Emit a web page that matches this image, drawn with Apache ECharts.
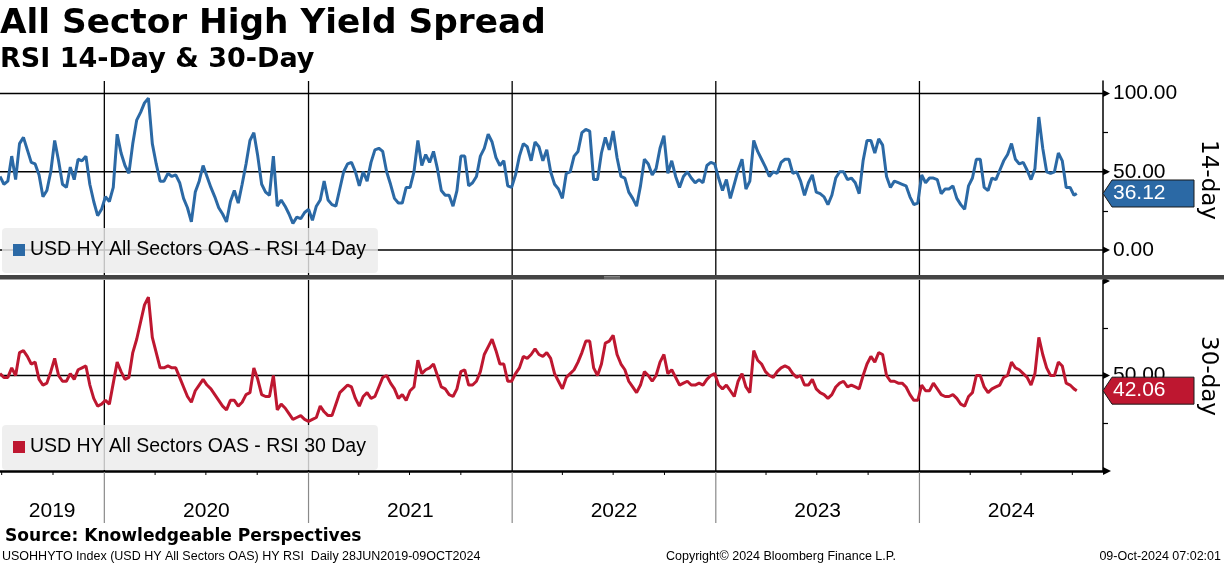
<!DOCTYPE html>
<html><head><meta charset="utf-8">
<script src="https://cdn.jsdelivr.net/npm/echarts@6/dist/echarts.min.js"></script>
<style>html,body{margin:0;padding:0;background:#fff}#c{width:1224px;height:566px}</style>
</head><body><div id="c"></div>
<script>
// Weekly readings (Fridays from 28-Jun-2019) plus the final print of 09-Oct-2024
const rsi14 = [
47,42,44,60,45,68,72,64,56,55,
48,34,38,50,70,57,42,40,53,45,
58,57,60,42,31,22,26,34,31,40,
74,62,54,49,68,83,88,94,97,68,
55,44,44,49,47,48,43,33,27,18,
37,44,54,47,40,34,27,23,18,31,
38,30,42,55,70,75,60,42,37,35,
60,28,32,28,23,17,21,20,24,26,
19,28,32,44,32,29,28,39,50,55,
56,50,41,50,44,56,64,65,63,50,
42,33,30,30,40,40,50,70,54,61,
56,63,52,38,35,35,28,38,60,60,
41,43,47,60,65,74,69,59,54,57,
41,40,48,60,68,66,57,69,66,57,
64,50,42,39,33,49,50,60,63,75,
77,76,45,45,62,72,64,76,59,47,
46,37,33,28,41,58,55,48,52,65,
73,49,57,47,40,47,50,46,43,45,
43,54,56,55,46,38,45,33,42,51,
58,39,44,70,63,58,53,47,50,49,
56,58,58,49,50,44,35,43,48,37,
36,34,29,35,46,50,50,45,46,43,
36,57,70,70,62,71,67,47,40,44,
43,42,41,34,29,30,48,43,46,46,
45,36,39,39,41,33,29,26,41,46,
58,58,40,38,46,45,51,57,61,68,
58,55,56,51,45,52,85,65,50,49,
50,62,57,40,40,35,
36.12];
const rsi30 = [
51,49,49,54,50,62,63,60,56,57,
48,45,46,52,59,50,47,47,51,48,
53,54,55,45,38,34,35,37,35,46,
57,52,48,49,62,69,78,87,91,70,
62,54,54,55,54,54,49,44,39,36,
42,45,48,45,43,40,37,34,32,37,
37,34,36,40,41,54,48,40,39,39,
50,32,35,33,30,27,28,29,27,26,
27,28,34,31,29,29,35,41,43,45,
44,38,34,39,41,38,39,44,49,50,
46,43,38,40,37,42,44,58,51,53,
54,56,50,44,43,40,39,43,52,53,
45,45,47,52,61,65,69,63,56,56,
47,47,51,54,60,59,61,64,61,60,
62,59,51,47,43,49,51,53,57,62,
68,68,54,50,56,67,68,71,61,56,
53,47,44,41,45,52,50,47,50,57,
61,51,53,49,45,46,47,45,45,46,
45,48,50,51,45,43,45,42,39,47,
51,44,41,63,58,56,52,50,49,52,
54,55,54,51,49,50,45,45,48,43,
41,40,38,40,44,46,47,44,45,44,
43,50,56,60,57,62,61,50,47,47,
46,46,44,40,37,37,45,42,42,46,
43,40,39,39,40,38,35,34,39,41,
50,50,44,41,43,44,45,49,50,57,
54,53,51,49,45,51,70,61,54,50,
50,57,55,46,45,43,
42.06];
const firstDate = '2019-06-28';
const lastDate = '2024-10-09';
const axisStart = '2019-06-28';
const axisEnd = '2024-11-25';
const yearStarts = ['2020-01-01','2021-01-01','2022-01-01','2023-01-01','2024-01-01'];
const quarterTicks = ['2019-07-01','2019-10-01','2020-04-01','2020-07-01','2020-10-01',
  '2021-04-01','2021-07-01','2021-10-01','2022-04-01','2022-07-01','2022-10-01',
  '2023-04-01','2023-07-01','2023-10-01','2024-04-01','2024-07-01','2024-10-01'];
const topTicks = [0,25,50,75,100];
const topLabels = [0,50,100];
const topGrid = [0,50,100];
const bottomLabels = [50];
const bottomGrid = [50];
const name14 = 'USD HY All Sectors OAS - RSI 14 Day';
const name30 = 'USD HY All Sectors OAS - RSI 30 Day';
const C14 = '#2b69a5', C30 = '#be1730';

const ts = s => { const p = s.split('-').map(Number); return new Date(p[0], p[1]-1, p[2]).getTime(); };
function buildDates(n){
  const out=[]; const p = firstDate.split('-').map(Number);
  for(let i=0;i<n-1;i++){ const d = new Date(p[0], p[1]-1, p[2] + i*7);
    out.push(d.getFullYear()+'-'+String(d.getMonth()+1).padStart(2,'0')+'-'+String(d.getDate()).padStart(2,'0')); }
  out.push(lastDate); return out;
}
const dates = buildDates(rsi14.length);
const pairs14 = dates.map((d,i)=>[ts(d), rsi14[i]]);
const pairs30 = dates.map((d,i)=>[ts(d), rsi30[i]]);
const bounds = [axisStart].concat(yearStarts, [axisEnd]).map(ts);
const labelDates = bounds.slice(0,-1).map((b,i)=> (b + bounds[i+1])/2);

const FONT = '"Liberation Sans", Arial, sans-serif';
const chart = echarts.init(document.getElementById('c'), null, {renderer:'canvas'});
const legendBase = {
  left: 2, orient: 'horizontal', icon: 'rect', itemWidth: 12, itemHeight: 12,
  backgroundColor: 'rgba(236,236,236,0.82)', borderRadius: 4, padding: [11,12,12,11],
  selectedMode: false,
  textStyle: {fontFamily: FONT, fontSize: 19.5, color: '#000', lineHeight: 22}
};
chart.setOption({
  animation: false,
  backgroundColor: '#fff',
  grid: [
    {left: 0, right: 121, top: 81, height: 195},
    {left: 0, right: 121, top: 280, height: 191}
  ],
  xAxis: [
    {gridIndex: 0, type: 'time', min: ts(axisStart), max: ts(axisEnd), show: false},
    {gridIndex: 1, type: 'time', min: ts(axisStart), max: ts(axisEnd),
      axisLine: {show: true, lineStyle: {color: '#000', width: 2.5}},
      axisTick: {show: false}, axisLabel: {show: false}, splitLine: {show: false}}
  ],
  yAxis: [
    {gridIndex: 0, type: 'value', position: 'right', min: -16.6, max: 108,
      axisLine: {show: true, lineStyle: {color: '#000', width: 1.5}},
      axisTick: {show: true, customValues: topTicks, length: 5, lineStyle: {color: '#000', width: 1.2}},
      axisLabel: {show: true, customValues: topLabels, margin: 10, color: '#000', fontFamily: FONT, fontSize: 21,
        formatter: v => Number(v).toFixed(2)},
      splitLine: {show: false}},
    {gridIndex: 1, type: 'value', position: 'right', min: 0, max: 100, interval: 25,
      axisLine: {show: true, lineStyle: {color: '#000', width: 1.5}},
      axisTick: {show: true, length: 5, lineStyle: {color: '#000', width: 1.2}},
      axisLabel: {show: true, margin: 10, color: '#000', fontFamily: FONT, fontSize: 21,
        formatter: v => bottomLabels.indexOf(Number(v)) >= 0 ? Number(v).toFixed(2) : ''},
      splitLine: {show: false}}
  ],
  legend: [
    Object.assign({}, legendBase, {top: 228, data: [name14]}),
    Object.assign({}, legendBase, {top: 425, data: [name30]})
  ],
  series: [
    {type: 'line', name: name14, xAxisIndex: 0, yAxisIndex: 0, data: pairs14, showSymbol: false, symbol: 'none',
      lineStyle: {color: C14, width: 3}, itemStyle: {color: C14}, z: 3},
    {type: 'line', name: name30, xAxisIndex: 1, yAxisIndex: 1, data: pairs30, showSymbol: false, symbol: 'none',
      lineStyle: {color: C30, width: 3}, itemStyle: {color: C30}, z: 3}
  ]
});

// decorations placed through the axes' own scales
const els = [];
const xPix = (i, t) => chart.convertToPixel({xAxisIndex: i}, t);
const yPix = (i, v) => chart.convertToPixel({yAxisIndex: i}, v);
const xL = xPix(0, ts(axisStart)), xR = xPix(0, ts(axisEnd));
const top0 = yPix(0, 108), bot0 = yPix(0, -16.6);
const top1 = yPix(1, 100), bot1 = yPix(1, 0);
function arrow(y){ return {type:'polygon', z: 4, shape:{points:[[xR, y-3.5],[xR+7, y],[xR, y+3.5]]}, style:{fill:'#000'}}; }
topGrid.forEach(v => { const y = yPix(0, v);
  els.push({type:'line', z: 1, shape:{x1:xL, y1:y, x2:xR, y2:y}, style:{stroke:'#000', lineWidth:1.5}});
  els.push(arrow(y)); });
bottomGrid.forEach(v => { const y = yPix(1, v);
  els.push({type:'line', z: 1, shape:{x1:xL, y1:y, x2:xR, y2:y}, style:{stroke:'#000', lineWidth:1.5}});
  els.push(arrow(y)); });
els.push(arrow(top1 + 1));
els.push({type:'polygon', z: 4, shape:{points:[[xR, bot1-4],[xR+8, bot1],[xR, bot1+4]]}, style:{fill:'#000'}});
yearStarts.forEach(d => { const x = xPix(0, ts(d));
  els.push({type:'line', z: 1, shape:{x1:x, y1:top0, x2:x, y2:bot0}, style:{stroke:'#000', lineWidth:1.3}});
  els.push({type:'line', z: 1, shape:{x1:x, y1:top1, x2:x, y2:bot1}, style:{stroke:'#000', lineWidth:1.3}});
  els.push({type:'line', z: 1, shape:{x1:x, y1:bot1+1, x2:x, y2:bot1+52}, style:{stroke:'#8a8a8a', lineWidth:1.2}});
});
quarterTicks.forEach(d => { const x = xPix(1, ts(d));
  els.push({type:'line', z: 2, shape:{x1:x, y1:bot1, x2:x, y2:bot1+4}, style:{stroke:'#000', lineWidth:1}}); });
labelDates.forEach(t => { const x = xPix(1, t);
  els.push({type:'text', z: 8, x: x, y: bot1 + 40, style:{text: String(new Date(t).getFullYear()), fill:'#000',
    fontFamily: FONT, fontSize: 21, align:'center', verticalAlign:'middle'}}); });
// divider between the panels
els.push({type:'rect', z: 5, shape:{x:0, y:275, width:1224, height:4.5}, style:{fill:'#444'}});
els.push({type:'line', z: 6, shape:{x1:604, y1:276.5, x2:620, y2:276.5}, style:{stroke:'#999', lineWidth:0.8}});
els.push({type:'line', z: 6, shape:{x1:604, y1:278, x2:620, y2:278}, style:{stroke:'#999', lineWidth:0.8}});
// last-value tags
function tag(i, v, color){
  const y = yPix(i, v);
  els.push({type:'polygon', z: 7, shape:{points:[[xR, y],[xR+9, y-13.5],[xR+91, y-13.5],[xR+91, y+13.5],[xR+9, y+13.5]]},
    style:{fill:color, stroke:'#1a1a1a', lineWidth:1}});
  els.push({type:'text', z: 8, x: xR+10, y: y, style:{text: v.toFixed(2), fill:'#fff', fontFamily: FONT, fontSize: 21,
    align:'left', verticalAlign:'middle'}});
}
tag(0, rsi14[rsi14.length-1], C14);
tag(1, rsi30[rsi30.length-1], C30);
// side titles
els.push({type:'text', z: 8, x: 1208, y: 180, rotation: -Math.PI/2, style:{text:'14-day', fill:'#000',
  fontFamily:'"DejaVu Sans", sans-serif', fontSize: 23, align:'center', verticalAlign:'middle'}});
els.push({type:'text', z: 8, x: 1208, y: 376, rotation: -Math.PI/2, style:{text:'30-day', fill:'#000',
  fontFamily:'"DejaVu Sans", sans-serif', fontSize: 23, align:'center', verticalAlign:'middle'}});
// titles and footer
els.push({type:'text', z: 8, x: 0, y: 24, style:{text:'All Sector High Yield Spread', fill:'#000',
  fontFamily:'"DejaVu Sans", sans-serif', fontWeight:'bold', fontSize: 34.3, align:'left', verticalAlign:'middle'}});
els.push({type:'text', z: 8, x: 0, y: 60, style:{text:'RSI 14-Day & 30-Day', fill:'#000',
  fontFamily:'"DejaVu Sans", sans-serif', fontWeight:'bold', fontSize: 27, align:'left', verticalAlign:'middle'}});
els.push({type:'text', z: 8, x: 5, y: 537, style:{text:'Source: Knowledgeable Perspectives', fill:'#000',
  fontFamily:'"DejaVu Sans", sans-serif', fontWeight:'bold', fontSize: 17.1, align:'left', verticalAlign:'middle'}});
els.push({type:'text', z: 8, x: 2, y: 557, style:{text:'USOHHYTO Index (USD HY All Sectors OAS) HY RSI  Daily 28JUN2019-09OCT2024',
  fill:'#000', fontFamily: FONT, fontSize: 12.5, align:'left', verticalAlign:'middle'}});
els.push({type:'text', z: 8, x: 666, y: 557, style:{text:'Copyright\u00a9 2024 Bloomberg Finance L.P.',
  fill:'#000', fontFamily: FONT, fontSize: 12.5, align:'left', verticalAlign:'middle'}});
els.push({type:'text', z: 8, x: 1221, y: 557, style:{text:'09-Oct-2024 07:02:01',
  fill:'#000', fontFamily: FONT, fontSize: 12.5, align:'right', verticalAlign:'middle'}});
chart.setOption({graphic: {elements: els}});
</script></body></html>
